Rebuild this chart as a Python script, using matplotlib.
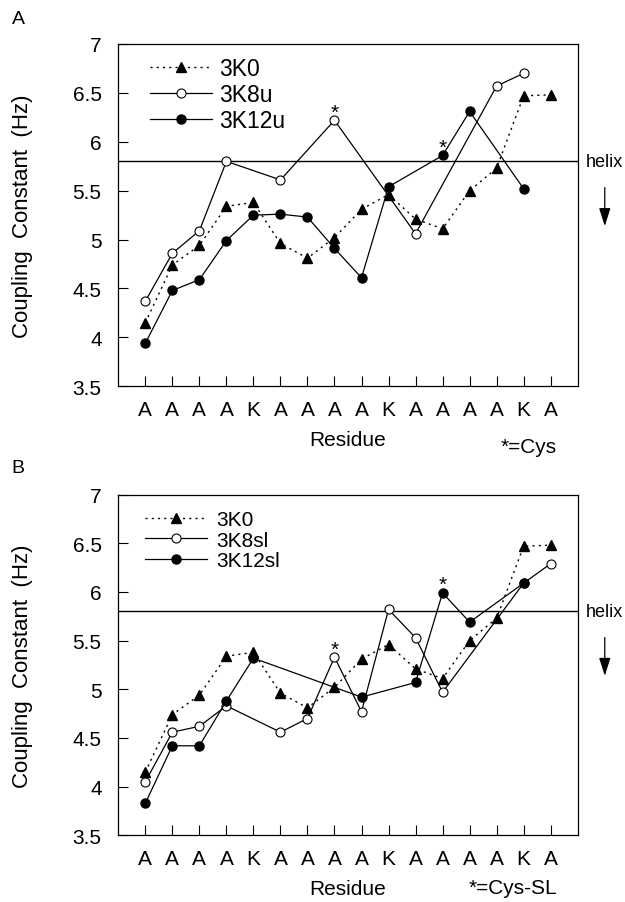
import numpy as np
import matplotlib.pyplot as plt
import matplotlib.transforms as mtransforms

plt.rcParams['font.family'] = ['Liberation Sans', 'DejaVu Sans']

residues = ["A", "A", "A", "A", "K", "A", "A", "A", "A", "K", "A", "A", "A", "A", "K", "A"]
helix = 5.8

# 3K0 (same in both panels)
k0_pos = list(range(16))
k0 = [4.15, 4.74, 4.94, 5.34, 5.38, 4.96, 4.81, 5.02, 5.31, 5.46, 5.21, 5.11, 5.50, 5.73, 6.47, 6.48]

# panel A
k8u_pos = [0, 1, 2, 3, 5, 7, 10, 13, 14]
k8u = [4.37, 4.86, 5.09, 5.80, 5.61, 6.22, 5.06, 6.57, 6.70]
k12u_pos = [0, 1, 2, 3, 4, 5, 6, 7, 8, 9, 11, 12, 14]
k12u = [3.94, 4.48, 4.59, 4.99, 5.25, 5.26, 5.23, 4.91, 4.61, 5.54, 5.86, 6.31, 5.52]

# panel B
k8sl_pos = [0, 1, 2, 3, 5, 6, 7, 8, 9, 10, 11, 14, 15]
k8sl = [4.05, 4.56, 4.62, 4.83, 4.56, 4.70, 5.33, 4.77, 5.82, 5.53, 4.97, 6.09, 6.29]
k12sl_pos = [0, 1, 2, 3, 4, 8, 10, 11, 12, 14]
k12sl = [3.83, 4.42, 4.42, 4.88, 5.32, 4.92, 5.07, 5.99, 5.69, 6.09]

# Cys positions (index, value of the point the star sits on)
cys_a = [(7, 6.22), (11, 5.86)]
cys_b = [(7, 5.33), (11, 5.99)]

fig = plt.figure(figsize=(6.25, 9.03), dpi=100)
axA = fig.add_axes([0.1893, 0.5711, 0.735, 0.3791])
axB = fig.add_axes([0.1893, 0.0738, 0.735, 0.3774])

panels = [
    (axA, ["3K0", "3K8u", "3K12u"], (k8u_pos, k8u), (k12u_pos, k12u), cys_a,
     16.5, 0.069, 0.961, 2.7, 0.33, 0.13),
    (axB, ["3K0", "3K8sl", "3K12sl"], (k8sl_pos, k8sl), (k12sl_pos, k12sl), cys_b,
     15, 0.058, 0.955, 3.0, 0.40, 0.08),
]

for ax, names, s8, s12, cys, lfs, lx, ly, hl, htp, lsp in panels:
    ax.axhline(helix, color='black', lw=1.0)
    ax.plot(k0_pos, k0, color='black', lw=1.0, ls=(0, (1.5, 3)),
            marker='^', ms=6.5, mfc='black', mec='black', label=names[0])
    ax.plot(s8[0], s8[1], color='black', lw=0.9,
            marker='o', ms=6.5, mfc='white', mec='black', mew=0.8, label=names[1])
    ax.plot(s12[0], s12[1], color='black', lw=0.9,
            marker='o', ms=6.5, mfc='black', mec='black', label=names[2])
    for i, v in cys:
        ax.annotate("*", xy=(i, v), xytext=(0, 2), textcoords='offset points',
                    ha='center', va='baseline', fontsize=15)

    ax.set_xlim(-1, 16)
    ax.set_ylim(3.5, 7)
    ax.set_xticks(range(16))
    ax.set_xticklabels(residues)
    ax.set_yticks(np.arange(3.5, 7.01, 0.5))
    ax.set_yticklabels(["3.5", "4", "4.5", "5", "5.5", "6", "6.5", "7"])
    ax.tick_params(direction='in', length=7, width=0.8, labelsize=15)
    ax.tick_params(axis='x', pad=10)
    ax.tick_params(axis='y', pad=12)
    for sp in ax.spines.values():
        sp.set_linewidth(0.9)
    ax.set_xlabel("Residue", fontsize=15, labelpad=8)
    ax.set_ylabel("Coupling  Constant  (Hz)", fontsize=16)
    ax.yaxis.set_label_coords(-0.185, 0.5)

    ax.legend(loc='upper left', bbox_to_anchor=(lx, ly), frameon=False, fontsize=lfs,
              borderpad=0, borderaxespad=0, handlelength=hl, handletextpad=htp,
              labelspacing=lsp)

    trans = mtransforms.blended_transform_factory(ax.transAxes, ax.transData)
    ax.text(1.018, helix, "helix", transform=trans, ha='left', va='center', fontsize=13)
    ax.annotate("", xy=(1.059, 5.11), xytext=(1.059, 5.56), xycoords=trans, textcoords=trans,
                arrowprops=dict(arrowstyle='-|>,head_length=1.1,head_width=0.35',
                                lw=0.9, color='black'))

fig.text(0.029, 0.978, "A", fontsize=14, ha='center', va='center')
fig.text(0.029, 0.481, "B", fontsize=14, ha='center', va='center')
fig.text(0.891, 0.504, "*=Cys", fontsize=15, ha='right', va='center')
fig.text(0.891, 0.016, "*=Cys-SL", fontsize=15, ha='right', va='center')

fig.savefig("out.png", dpi=100)
